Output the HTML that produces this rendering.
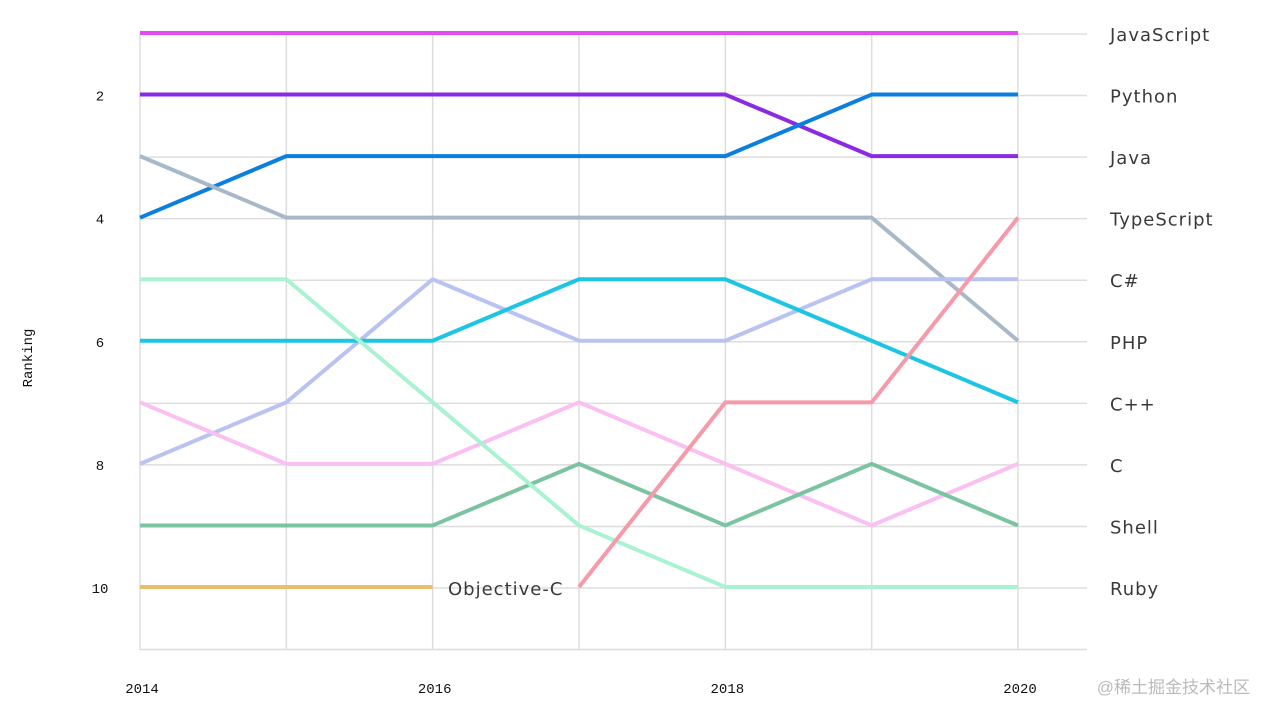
<!DOCTYPE html>
<html><head><meta charset="utf-8">
<style>
html,body{margin:0;padding:0;background:#fff;}
svg{display:block;}
.lab{font-family:"DejaVu Sans","Liberation Sans",sans-serif;font-size:18px;fill:#3a3a3a;letter-spacing:1px;}
.tick{font-family:"Liberation Mono",monospace;font-size:14px;fill:#111;}
</style></head>
<body>
<svg id="chart" width="1270" height="717"></svg>
<script>
const years = [2014,2015,2016,2017,2018,2019,2020];
const rankLabels = ["JavaScript","Python","Java","TypeScript","C#","PHP","C++","C","Shell","Ruby"];
const yTicks = [2,4,6,8,10];
const xTicks = [2014,2016,2018,2020];
const javascriptRank = [1,1,1,1,1,1,1];
const javaRank = [2,2,2,2,2,3,3];
const pythonRank = [4,3,3,3,3,2,2];
const phpRank = [3,4,4,4,4,4,6];
const csharpRank = [8,7,5,6,6,5,5];
const cppRank = [6,6,6,5,5,6,7];
const typescriptRank = [null,null,null,10,7,7,4];
const cRank = [7,8,8,7,8,9,8];
const shellRank = [9,9,9,8,9,8,9];
const rubyRank = [5,5,7,9,10,10,10];
const objcRank = [10,10,10,null,null,null,null];

const series = [
 ["javascript",javascriptRank,"#e14bef"],
 ["java",javaRank,"#8a2be2"],
 ["python",pythonRank,"#0b7fdf"],
 ["php",phpRank,"#a8b8c8"],
 ["csharp",csharpRank,"#b9c3f1"],
 ["cpp",cppRank,"#1ec5e2"],
 ["c",cRank,"#fac0f2"],
 ["shell",shellRank,"#7cc3a1"],
 ["ruby",rubyRank,"#a9f2d2"],
 ["objective-c",objcRank,"#ecbd6a"],
 ["typescript",typescriptRank,"#f69aa9"]
];

const X0=140, X1=1018, Y1=34, Y10=588;
const xs = y => X0 + (y-2014)*(X1-X0)/6;
const ys = r => Y1 + (r-1)*(Y10-Y1)/9;
const NS="http://www.w3.org/2000/svg";
const svg=document.getElementById("chart");
function mk(tag,attrs){const e=document.createElementNS(NS,tag);for(const k in attrs)e.setAttribute(k,attrs[k]);svg.appendChild(e);return e;}

years.forEach(y=>{
 const l=mk("line",{x1:xs(y),x2:xs(y),y1:ys(1),y2:ys(11),stroke:"#ddd","stroke-width":1.5});
 
 
});
for(let r=1;r<=11;r++){
 const l=mk("line",{x1:X0,x2:1087,y1:ys(r),y2:ys(r),stroke:"#ddd","stroke-width":1.5});
 
 
}
yTicks.forEach(t=>{
 const e=mk("text",{x:100,y:ys(t)+5,"text-anchor":"middle",class:"tick"});
 e.textContent=t;
 
 
});
xTicks.forEach(t=>{
 const e=mk("text",{x:xs(t)+2,y:693,"text-anchor":"middle",class:"tick"});
 e.textContent=t;
 
 
});
const yt=mk("text",{x:0,y:0,transform:"translate(32,358) rotate(-90)","text-anchor":"middle",class:"tick"});
yt.textContent="Ranking";



rankLabels.forEach((n,i)=>{
 const e=mk("text",{x:1110,y:ys(i+1)+7,class:"lab"});
 e.textContent=n;
 
 
});

series.forEach(([name,vals,col])=>{
 let d="";let started=false;
 vals.forEach((v,i)=>{
  if(v==null){started=false;return;}
  d+=(started?"L":"M")+xs(years[i])+","+(ys(v)-1)+" ";started=true;
 });
 const p=mk("path",{d:d,fill:"none",stroke:col,"stroke-width":4,"stroke-linejoin":"round"});
 
 
});
const oc=mk("text",{x:448,y:ys(10)+7,class:"lab"});
oc.textContent="Objective-C";



const wm=mk("text",{x:1250,y:693,"text-anchor":"end",style:"font-family:'Liberation Sans','Noto Sans CJK SC',sans-serif;font-size:17px;fill:#bbb"});
wm.textContent="@稀土掘金技术社区";


</script>
</body></html>
